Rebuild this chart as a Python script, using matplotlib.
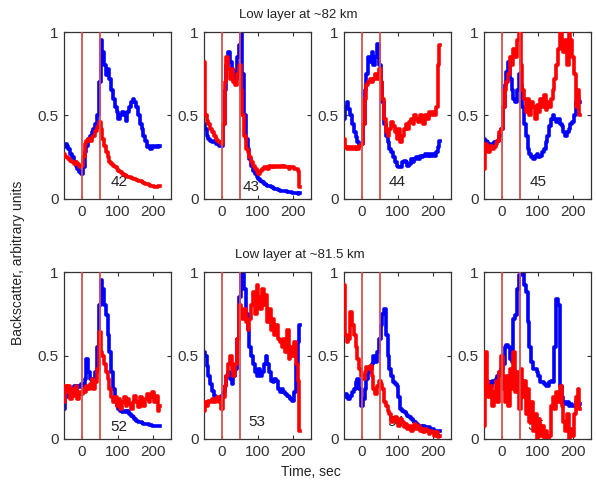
import numpy as np
import matplotlib
matplotlib.use("Agg")
import matplotlib.pyplot as plt

plt.rcParams['font.family'] = ['Liberation Sans', 'DejaVu Sans']

# time axis, 5 s sampling from -50 to 220 s
t = np.arange(-50, 225, 5)

# traces, rows of 11 samples: -50..0, 5..55, 60..110, 115..165, 170..220
b42 = [0.31, 0.33, 0.32, 0.30, 0.27, 0.25, 0.22, 0.20, 0.18, 0.16, 0.15,
       0.19, 0.28, 0.32, 0.36, 0.38, 0.40, 0.42, 0.45, 0.50, 0.70, 0.95,
       0.88, 0.80, 0.74, 0.78, 0.72, 0.65, 0.60, 0.55, 0.52, 0.48, 0.50,
       0.52, 0.50, 0.47, 0.52, 0.55, 0.58, 0.60, 0.58, 0.55, 0.50, 0.45,
       0.42, 0.38, 0.35, 0.31, 0.32, 0.30, 0.32, 0.31, 0.32, 0.31, 0.32]
r42 = [0.27, 0.25, 0.25, 0.24, 0.23, 0.22, 0.21, 0.22, 0.21, 0.19, 0.20,
       0.25, 0.33, 0.35, 0.36, 0.35, 0.37, 0.38, 0.41, 0.43, 0.46, 0.42,
       0.36, 0.32, 0.28, 0.25, 0.22, 0.21, 0.20, 0.19, 0.18, 0.17, 0.16,
       0.15, 0.145, 0.14, 0.13, 0.13, 0.125, 0.12, 0.12, 0.115, 0.11, 0.105,
       0.10, 0.095, 0.09, 0.09, 0.085, 0.08, 0.075, 0.07, 0.07, 0.075, 0.08]

b43 = [0.45, 0.42, 0.38, 0.36, 0.35, 0.34, 0.35, 0.33, 0.33, 0.32, 0.32,
       0.45, 0.65, 0.80, 0.88, 0.82, 0.78, 0.76, 0.72, 0.85, 0.92, 1.05,
       0.75, 0.50, 0.36, 0.30, 0.24, 0.20, 0.17, 0.15, 0.13, 0.12, 0.11,
       0.10, 0.09, 0.085, 0.08, 0.075, 0.07, 0.065, 0.06, 0.06, 0.055, 0.05,
       0.05, 0.045, 0.045, 0.04, 0.04, 0.04, 0.035, 0.035, 0.035, 0.03, 0.035]
r43 = [0.82, 0.50, 0.47, 0.45, 0.42, 0.40, 0.38, 0.36, 0.35, 0.34, 0.33,
       0.45, 0.70, 0.85, 0.78, 0.72, 0.78, 0.70, 0.68, 0.75, 0.80, 0.65,
       0.50, 0.38, 0.30, 0.28, 0.25, 0.22, 0.20, 0.18, 0.16, 0.15, 0.17,
       0.18, 0.19, 0.19, 0.18, 0.20, 0.19, 0.20, 0.19, 0.20, 0.19, 0.20,
       0.19, 0.20, 0.19, 0.19, 0.18, 0.19, 0.19, 0.18, 0.18, 0.17, 0.07]

b44 = [0.48, 0.55, 0.58, 0.54, 0.50, 0.45, 0.40, 0.37, 0.34, 0.32, 0.33,
       0.45, 0.65, 0.75, 0.85, 0.82, 0.88, 0.80, 0.85, 0.93, 0.80, 0.70,
       0.58, 0.45, 0.38, 0.34, 0.30, 0.28, 0.25, 0.22, 0.20, 0.19, 0.19,
       0.22, 0.23, 0.22, 0.20, 0.21, 0.24, 0.22, 0.24, 0.25, 0.24, 0.26,
       0.25, 0.26, 0.27, 0.26, 0.27, 0.26, 0.27, 0.26, 0.28, 0.31, 0.35]
r44 = [0.36, 0.31, 0.30, 0.31, 0.30, 0.31, 0.30, 0.31, 0.30, 0.32, 0.33,
       0.45, 0.60, 0.68, 0.70, 0.72, 0.70, 0.72, 0.75, 0.72, 0.78, 0.70,
       0.60, 0.48, 0.40, 0.38, 0.42, 0.46, 0.44, 0.40, 0.36, 0.42, 0.34,
       0.38, 0.42, 0.45, 0.42, 0.46, 0.48, 0.45, 0.50, 0.48, 0.46, 0.50,
       0.48, 0.45, 0.50, 0.48, 0.52, 0.50, 0.52, 0.50, 0.55, 0.80, 0.92]

b45 = [0.36, 0.35, 0.34, 0.33, 0.32, 0.33, 0.34, 0.34, 0.35, 0.38, 0.42,
       0.55, 0.68, 0.76, 0.82, 0.72, 0.65, 0.60, 0.58, 0.65, 0.75, 0.68,
       0.55, 0.45, 0.38, 0.30, 0.27, 0.25, 0.24, 0.26, 0.27, 0.25, 0.26,
       0.28, 0.30, 0.34, 0.38, 0.44, 0.48, 0.50, 0.48, 0.46, 0.48, 0.45,
       0.44, 0.40, 0.38, 0.40, 0.42, 0.45, 0.46, 0.50, 0.58, 0.60, 0.58]
r45 = [0.18, 0.33, 0.30, 0.28, 0.32, 0.30, 0.31, 0.33, 0.35, 0.40, 0.42,
       0.55, 0.65, 0.70, 0.75, 0.85, 0.80, 0.90, 0.85, 0.95, 1.02, 0.80,
       0.65, 0.60, 0.52, 0.60, 0.50, 0.58, 0.55, 0.48, 0.56, 0.52, 0.60,
       0.55, 0.62, 0.53, 0.58, 0.55, 0.60, 0.65, 0.72, 0.80, 0.90, 1.02,
       0.92, 0.88, 0.95, 0.80, 1.02, 0.95, 0.85, 0.75, 0.55, 0.65, 0.50]

b52 = [0.18, 0.25, 0.30, 0.28, 0.25, 0.30, 0.32, 0.30, 0.32, 0.31, 0.33,
       0.32, 0.36, 0.48, 0.40, 0.36, 0.34, 0.36, 0.40, 0.55, 0.80, 0.95,
       0.90, 0.80, 0.74, 0.62, 0.52, 0.40, 0.30, 0.24, 0.20, 0.18, 0.17,
       0.16, 0.17, 0.16, 0.17, 0.15, 0.14, 0.13, 0.12, 0.11, 0.10, 0.10,
       0.095, 0.09, 0.09, 0.09, 0.085, 0.085, 0.08, 0.08, 0.08, 0.08, 0.08]
r52 = [0.22, 0.32, 0.28, 0.32, 0.24, 0.30, 0.26, 0.32, 0.24, 0.28, 0.27,
       0.30, 0.28, 0.32, 0.30, 0.33, 0.36, 0.30, 0.34, 0.42, 0.64, 0.52,
       0.50, 0.45, 0.40, 0.36, 0.30, 0.25, 0.22, 0.25, 0.20, 0.24, 0.18,
       0.22, 0.25, 0.20, 0.24, 0.21, 0.18, 0.22, 0.26, 0.22, 0.19, 0.25,
       0.22, 0.20, 0.24, 0.27, 0.22, 0.25, 0.28, 0.22, 0.26, 0.17, 0.20]

b53 = [0.52, 0.50, 0.44, 0.38, 0.33, 0.29, 0.26, 0.24, 0.23, 0.24, 0.26,
       0.28, 0.32, 0.38, 0.40, 0.36, 0.33, 0.38, 0.42, 0.60, 0.85, 1.05,
       1.02, 0.90, 0.75, 0.65, 0.55, 0.50, 0.45, 0.40, 0.38, 0.42, 0.38,
       0.40, 0.45, 0.50, 0.45, 0.40, 0.35, 0.34, 0.36, 0.35, 0.30, 0.28,
       0.30, 0.28, 0.27, 0.26, 0.25, 0.24, 0.23, 0.28, 0.45, 0.58, 0.68]
r53 = [0.17, 0.22, 0.20, 0.23, 0.22, 0.24, 0.22, 0.23, 0.25, 0.22, 0.18,
       0.25, 0.32, 0.38, 0.45, 0.50, 0.42, 0.38, 0.45, 0.60, 0.80, 0.75,
       0.72, 0.78, 0.70, 0.65, 0.72, 0.80, 0.88, 0.75, 0.92, 0.85, 0.78,
       0.90, 0.80, 0.86, 0.70, 0.78, 0.65, 0.72, 0.62, 0.68, 0.60, 0.58,
       0.55, 0.60, 0.52, 0.65, 0.48, 0.55, 0.50, 0.58, 0.45, 0.35, 0.05]

b54 = [0.25, 0.27, 0.25, 0.24, 0.26, 0.28, 0.30, 0.34, 0.36, 0.30, 0.20,
       0.24, 0.30, 0.36, 0.40, 0.42, 0.45, 0.50, 0.46, 0.52, 0.60, 0.68,
       0.75, 0.78, 0.62, 0.50, 0.42, 0.38, 0.34, 0.33, 0.32, 0.25, 0.18,
       0.17, 0.16, 0.15, 0.14, 0.13, 0.12, 0.11, 0.10, 0.09, 0.08, 0.08,
       0.07, 0.08, 0.07, 0.06, 0.07, 0.06, 0.06, 0.05, 0.05, 0.05, 0.05]
r54 = [0.92, 0.62, 0.58, 0.60, 0.76, 0.68, 0.62, 0.55, 0.48, 0.42, 0.38,
       0.36, 0.40, 0.43, 0.42, 0.44, 0.38, 0.30, 0.27, 0.32, 0.35, 0.33,
       0.30, 0.22, 0.20, 0.17, 0.15, 0.10, 0.12, 0.13, 0.10, 0.08, 0.12,
       0.10, 0.07, 0.09, 0.06, 0.08, 0.05, 0.07, 0.09, 0.06, 0.08, 0.05,
       0.06, 0.04, 0.06, 0.05, 0.03, 0.05, 0.04, 0.02, 0.04, 0.01, 0.02]

b55 = [0.30, 0.33, 0.30, 0.34, 0.32, 0.35, 0.34, 0.36, 0.38, 0.40, 0.42,
       0.45, 0.55, 0.56, 0.55, 0.48, 0.46, 0.72, 0.74, 0.90, 0.98, 1.02,
       1.02, 0.92, 0.88, 0.70, 0.55, 0.46, 0.42, 0.42, 0.40, 0.38, 0.34,
       0.34, 0.33, 0.32, 0.32, 0.34, 0.35, 0.34, 0.55, 0.84, 0.80, 0.32,
       0.25, 0.22, 0.21, 0.22, 0.20, 0.21, 0.20, 0.20, 0.22, 0.20, 0.21]
r55 = [0.08, 0.52, 0.35, 0.25, 0.32, 0.20, 0.28, 0.35, 0.22, 0.40, 0.50,
       0.30, 0.22, 0.38, 0.20, 0.42, 0.30, 0.52, 0.28, 0.40, 0.18, 0.42,
       0.25, 0.35, 0.15, 0.30, 0.10, 0.22, 0.05, 0.15, 0.00, 0.12, 0.02,
       0.08, 0.00, 0.05, 0.00, 0.02, 0.20, 0.25, 0.18, 0.28, 0.22, 0.32,
       0.20, 0.10, 0.05, 0.15, 0.00, 0.06, 0.02, 0.15, 0.25, 0.30, 0.18]

event_ids = ['42', '43', '44', '45', '52', '53', '54', '55']
blue = [b42, b43, b44, b45, b52, b53, b54, b55]
red = [r42, r43, r44, r45, r52, r53, r54, r55]
label_x = [105, 82, 100, 101, 104, 99, 95, 95]
label_y = [0.10, 0.07, 0.10, 0.10, 0.07, 0.10, 0.10, 0.08]
markers = [0, 50]

W, H = 596, 483
fig = plt.figure(figsize=(W / 100, H / 100), dpi=100)

lefts = [64, 204, 344, 484]
bottoms = [199, 439]
aw, ah = 107, 167

for k in range(8):
    row, col = divmod(k, 4)
    ax = fig.add_axes([lefts[col] / W, 1 - bottoms[row] / H, aw / W, ah / H])
    ax.text(label_x[k], label_y[k], event_ids[k], ha='center', va='center',
            fontsize=11, color='#222222', zorder=1)
    ax.plot(t, blue[k], color='blue', lw=2.6, drawstyle='steps-mid', zorder=2)
    ax.plot(t, red[k], color='red', lw=2.6, drawstyle='steps-mid', zorder=3)
    for m in markers:
        ax.axvline(m, color='#d85050', lw=1.3, zorder=4)
    ax.set_xlim(-50, 250)
    ax.set_ylim(0, 1)
    ax.set_xticks([0, 100, 200])
    ax.set_yticks([0, 0.5, 1])
    ax.set_yticklabels(['0', '0.5', '1'])
    ax.tick_params(direction='in', length=3, width=0.8, top=True, right=True,
                   labelsize=11, labelcolor='#333333', color='#333333', pad=4)
    for s in ax.spines.values():
        s.set_color('#333333')
        s.set_linewidth(0.9)

fig.text(298 / W, 1 - 15 / H, 'Low layer at ~82 km', ha='center', va='center',
         fontsize=9.5, color='#222222')
fig.text(300 / W, 1 - 255 / H, 'Low layer at ~81.5 km', ha='center', va='center',
         fontsize=9.5, color='#222222')
fig.text(18 / W, 1 - 263 / H, 'Backscatter, arbitrary units', rotation=90,
         ha='center', va='center', fontsize=10, color='#222222')
fig.text(311 / W, 1 - 472 / H, 'Time, sec', ha='center', va='center',
         fontsize=10, color='#222222')

fig.savefig('out.png', dpi=100)
